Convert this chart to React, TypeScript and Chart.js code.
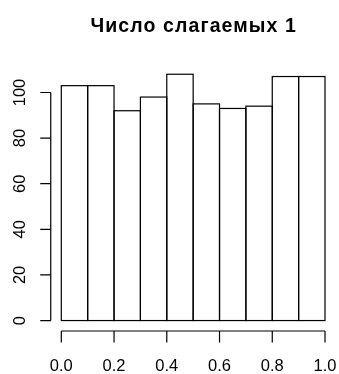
import React, { useEffect, useRef } from "react";
import { Chart, registerables } from "chart.js";

Chart.register(...registerables);

const TITLE = "Число слагаемых 1";
const BIN_CENTERS = [0.05, 0.15, 0.25, 0.35, 0.45, 0.55, 0.65, 0.75, 0.85, 0.95];
const COUNTS = [103, 103, 92, 98, 108, 95, 93, 94, 107, 107];
const X_TICKS = [0, 0.2, 0.4, 0.6, 0.8, 1.0];
const Y_TICKS = [0, 20, 40, 60, 80, 100];

const FONT = "'Liberation Sans', Arial, Helvetica, sans-serif";

const rAxesPlugin = {
  id: "rAxes",
  afterDatasetsDraw(chart: any) {
    const ctx = chart.ctx;
    const xs = chart.scales.x;
    const ys = chart.scales.y;
    const area = chart.chartArea;
    // bar outlines
    const meta = chart.getDatasetMeta(0);
    ctx.save();
    ctx.strokeStyle = "#000";
    ctx.lineWidth = 1.2;
    meta.data.forEach((el: any) => {
      const p = el.getProps(["x", "y", "base", "width"], true);
      const l = p.x - p.width / 2;
      const r = p.x + p.width / 2;
      ctx.strokeRect(l, p.y, r - l, p.base - p.y);
    });
    // y axis
    const yTop = ys.getPixelForValue(Y_TICKS[Y_TICKS.length - 1]);
    const yBot = ys.getPixelForValue(Y_TICKS[0]);
    const ax = area.left;
    ctx.beginPath();
    ctx.moveTo(ax, yTop);
    ctx.lineTo(ax, yBot);
    Y_TICKS.forEach((v) => {
      const py = ys.getPixelForValue(v);
      ctx.moveTo(ax, py);
      ctx.lineTo(ax - 10.5, py);
    });
    // x axis
    const ay = area.bottom + 0.6;
    const xL = xs.getPixelForValue(X_TICKS[0]);
    const xR = xs.getPixelForValue(X_TICKS[X_TICKS.length - 1]);
    ctx.moveTo(xL, ay);
    ctx.lineTo(xR, ay);
    X_TICKS.forEach((v) => {
      const px = xs.getPixelForValue(v);
      ctx.moveTo(px, ay);
      ctx.lineTo(px, ay + 11.5);
    });
    ctx.stroke();
    // labels
    ctx.fillStyle = "#000";
    ctx.font = `16.5px ${FONT}`;
    ctx.textAlign = "center";
    ctx.textBaseline = "middle";
    X_TICKS.forEach((v) => {
      ctx.fillText(v.toFixed(1), xs.getPixelForValue(v), 366);
    });
    Y_TICKS.forEach((v) => {
      ctx.save();
      ctx.translate(20, ys.getPixelForValue(v));
      ctx.rotate(-Math.PI / 2);
      ctx.fillText(String(v), 0, 0);
      ctx.restore();
    });
    // title
    ctx.font = `bold 19.5px ${FONT}`;
    ctx.textBaseline = "alphabetic";
    ctx.textAlign = "left";
    const cx = (area.left + area.right) / 2;
    const spacing = 1.1;
    (ctx as any).letterSpacing = `${spacing}px`;
    const w = ctx.measureText(TITLE).width - spacing;
    ctx.fillText(TITLE, cx - w / 2, 32);
    ctx.restore();
  },
};

export default function App() {
  const ref = useRef<HTMLCanvasElement>(null);
  useEffect(() => {
    if (!ref.current) return;
    const chart = new Chart(ref.current, {
      type: "bar",
      data: {
        datasets: [
          {
            data: BIN_CENTERS.map((x, i) => ({ x, y: COUNTS[i] })),
            backgroundColor: "#ffffff",
            borderWidth: 0,
            barPercentage: 1,
            categoryPercentage: 1,
          },
        ],
      },
      options: {
        animation: false,
        responsive: false,
        events: [],
        layout: { padding: { left: 50.75, right: 3.45, top: 64.4, bottom: 43.6 } },
        plugins: { legend: { display: false }, tooltip: { enabled: false }, title: { display: false } },
        scales: {
          x: { type: "linear", min: -0.04, max: 1.04, display: false, offset: false },
          y: { type: "linear", min: -4.32, max: 112.32, display: false },
        },
      },
      plugins: [rAxesPlugin],
    });
    return () => chart.destroy();
  }, []);
  return (
    <div style={{ position: "absolute", left: 0, top: 0, width: 339, height: 374, background: "#fff" }}>
      <canvas ref={ref} width={339} height={374} style={{ display: "block" }} />
    </div>
  );
}
